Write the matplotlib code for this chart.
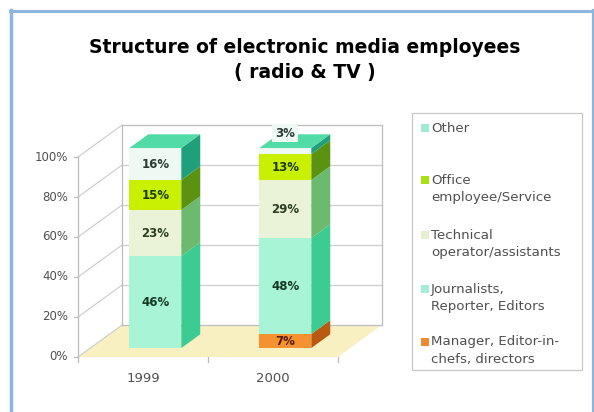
import matplotlib
matplotlib.use("Agg")
import matplotlib.pyplot as plt
from matplotlib.patches import Polygon, Rectangle
import numpy as np

plt.rcParams["font.family"] = ["DejaVu Sans"]

# ---- data -------------------------------------------------------------
years = ["1999", "2000"]
groups = ["Manager, Editor-in-\nchefs, directors",
          "Journalists,\nReporter, Editors",
          "Technical\noperator/assistants",
          "Office\nemployee/Service",
          "Other"]
manager = [0, 7]
journalists = [46, 48]
technical = [23, 29]
office = [15, 13]
other = [16, 3]
y_ticks = [0, 20, 40, 60, 80, 100]

series = [manager, journalists, technical, office, other]

# ---- styling ----------------------------------------------------------
FRONT = ["#f3922f", "#a8f4d6", "#eaf2d8", "#c8f000", "#eef9f4"]
SIDE = ["#b85a12", "#3ccb90", "#6cba70", "#5c9212", "#1fa07a"]
LEGEND_COL = ["#f08a30", "#a6ecd8", "#e6eed2", "#a8e012", "#9eead2"]
TOP = "#52dba7"
LABEL_COL = ["#5a1a00", "#163a22", "#2e3e22", "#1f3a08", "#2a3a34"]
GRID = "#cfcfcf"
WALL = "#bdbdbd"
FLOOR = "#f9f0c2"
TXT = "#505050"
FRAME = "#8db6de"

W, H = 594, 412
fig = plt.figure(figsize=(W / 100, H / 100), dpi=100)
fig.patch.set_facecolor("white")

# chart axes: x in category units, y in percent (front plane)
X0_PX, PX_PER_CAT = 78, 130
Y0_PX, PX_PER_PCT = 357, 2.0
ax = fig.add_axes([0, 0, 1, 1])
ax.set_xlim(-0.5 - X0_PX / PX_PER_CAT, -0.5 + (W - X0_PX) / PX_PER_CAT)
ax.set_ylim((Y0_PX - H) / PX_PER_PCT, Y0_PX / PX_PER_PCT)
ax.axis("off")

# depth of the box (back wall offset) and bar placement in depth
DX, DY = 44 / PX_PER_CAT, 32 / PX_PER_PCT
D0, D1 = 0.28, 0.71
BAR_W = 0.4
xl, xr = -0.5, len(years) - 0.5

# floor
ax.add_patch(Polygon([(xl, 0), (xr, 0), (xr + DX, DY), (xl + DX, DY)],
                     closed=True, facecolor=FLOOR, edgecolor="none", zorder=1))

# back wall gridlines and side wall diagonals
for t in y_ticks:
    ax.plot([xl + DX, xr + DX], [t + DY, t + DY], color=GRID if 0 < t < 100 else WALL,
            lw=0.9, zorder=2)
    ax.plot([xl, xl + DX], [t, t + DY], color=GRID, lw=0.9, zorder=2)
    ax.plot([xl - 0.03, xl], [t, t], color=WALL, lw=0.9, zorder=2)
    ax.text(xl - 0.075, t, f"{t}%", ha="right", va="center",
            fontsize=8.5, color=TXT)
ax.plot([xl + DX, xl + DX], [DY, 100 + DY], color=WALL, lw=0.9, zorder=2)
ax.plot([xr + DX, xr + DX], [DY, 100 + DY], color=WALL, lw=0.9, zorder=2)
ax.plot([xl, xl], [0, 100], color=WALL, lw=0.9, zorder=2)

# x axis ticks and category labels
for b in np.arange(len(years) + 1) - 0.5:
    ax.plot([b, b], [0, -2.5], color=WALL, lw=0.9, zorder=2)
for i, yr in enumerate(years):
    ax.text(i, -10.5, yr, ha="center", va="center", fontsize=9.5, color=TXT)

# stacked pseudo-3d bars
ddx, ddy = (D1 - D0) * DX, (D1 - D0) * DY
for i in range(len(years)):
    x_left = i - BAR_W / 2 + D0 * DX
    x_right = i + BAR_W / 2 + D0 * DX
    base = D0 * DY
    bottom = 0
    for k, vals in enumerate(series):
        v = vals[i]
        if v <= 0:
            continue
        yb, yt = base + bottom, base + bottom + v
        ax.add_patch(Rectangle((x_left, yb), x_right - x_left, v,
                               facecolor=FRONT[k], edgecolor="none", zorder=3))
        ax.add_patch(Polygon([(x_right, yb), (x_right + ddx, yb + ddy),
                              (x_right + ddx, yt + ddy), (x_right, yt)],
                             closed=True, facecolor=SIDE[k], edgecolor="none", zorder=3))
        xc = (x_left + x_right) / 2
        if v >= 5:
            ax.text(xc, yb + v / 2, f"{v}%", ha="center", va="center",
                    fontsize=8.5, fontweight="bold", color=LABEL_COL[k], zorder=5)
        else:
            ax.text(xc, yt + 7.5, f"{v}%", ha="center", va="center",
                    fontsize=8.5, fontweight="bold", color=LABEL_COL[k], zorder=5,
                    bbox=dict(boxstyle="square,pad=0.25", facecolor=FRONT[k],
                              edgecolor="none"))
        bottom += v
    top = base + bottom
    ax.add_patch(Polygon([(x_left, top), (x_right, top), (x_right + ddx, top + ddy),
                          (x_left + ddx, top + ddy)],
                         closed=True, facecolor=TOP, edgecolor="none", zorder=4))

# overlay in pixel coordinates: title, legend, frame
ov = fig.add_axes([0, 0, 1, 1])
ov.set_xlim(0, W)
ov.set_ylim(H, 0)
ov.axis("off")
ov.patch.set_alpha(0)

ov.text(305, 47, "Structure of electronic media employees", ha="center",
        va="center", fontsize=13.5, fontweight="bold", color="black")
ov.text(305, 72, "( radio & TV )", ha="center", va="center",
        fontsize=13.5, fontweight="bold", color="black")

ov.add_patch(Rectangle((412, 113), 170, 257, facecolor="white",
                       edgecolor="#c8c8c8", lw=0.9))
entry_y = [342, 289, 235, 180, 128]
for k in range(len(groups) - 1, -1, -1):
    y = entry_y[k]
    ov.add_patch(Rectangle((421, y - 4), 8, 8, facecolor=LEGEND_COL[k],
                           edgecolor="none"))
    ov.text(431, y - 6.5, groups[k], ha="left", va="top", fontsize=9.6,
            color=TXT, linespacing=1.45)

ov.plot([11, 11], [10, H], color=FRAME, lw=2.5)
ov.plot([10, 593], [11, 11], color=FRAME, lw=2.2)
ov.plot([592.5, 592.5], [10, H], color=FRAME, lw=1.6)

fig.savefig("out.png", dpi=100, facecolor="white")
